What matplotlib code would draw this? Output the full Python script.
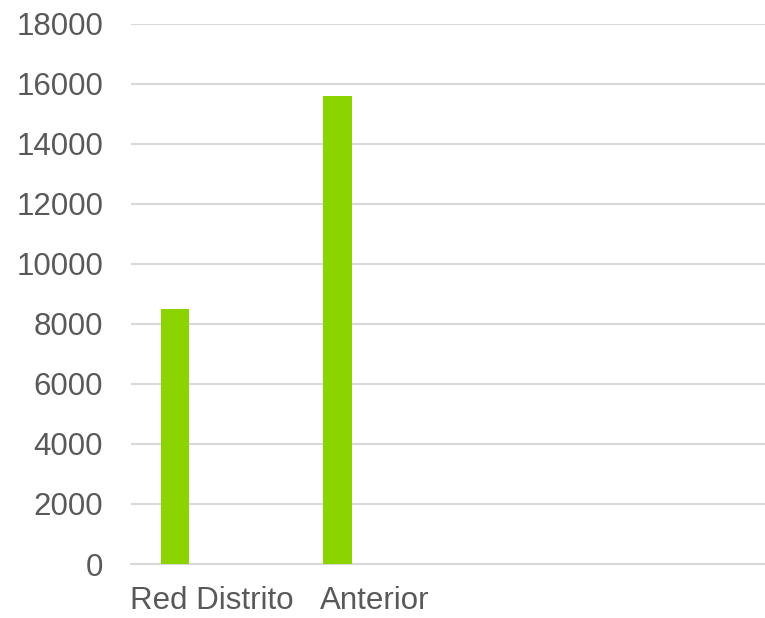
import numpy as np
import matplotlib
matplotlib.use("Agg")
import matplotlib.pyplot as plt

# Données
categories = ["Red Distrito", "Anterior", "", ""]
valeurs = [8500, 15600]
graduations_y = [0, 2000, 4000, 6000, 8000, 10000, 12000, 14000, 16000, 18000]

plt.rcParams['font.family'] = ['Liberation Sans', 'DejaVu Sans']

fig = plt.figure(figsize=(7.65, 6.18), dpi=100)
ax = fig.add_axes([131 / 765, (618 - 564) / 618, 1 - 131 / 765, (564 - 23.5) / 618])

x = np.arange(len(categories))
decalage = -0.228   # la barre est la première de son groupe
ax.bar(x[:len(valeurs)] + decalage, valeurs, width=0.176, color="#8cd400", zorder=3)

ax.set_xlim(-0.5, (765 - 132) / 162 - 0.5)
ax.set_ylim(0, 18000)
ax.set_yticks(graduations_y)
ax.set_xticks(x)
ax.set_xticklabels(categories)

ax.grid(axis='y', color="#d9d9d9", linewidth=1.5, zorder=0)
for s in ["top", "right", "left"]:
    ax.spines[s].set_visible(False)
ax.spines["bottom"].set_color("#d9d9d9")
ax.spines["bottom"].set_linewidth(1.5)

ax.tick_params(axis='y', length=0, pad=20, labelsize=22.5, labelcolor="#595959")
ax.tick_params(axis='x', length=0, pad=16, labelsize=22.5, labelcolor="#595959")

fig.savefig("out.png", dpi=100)
